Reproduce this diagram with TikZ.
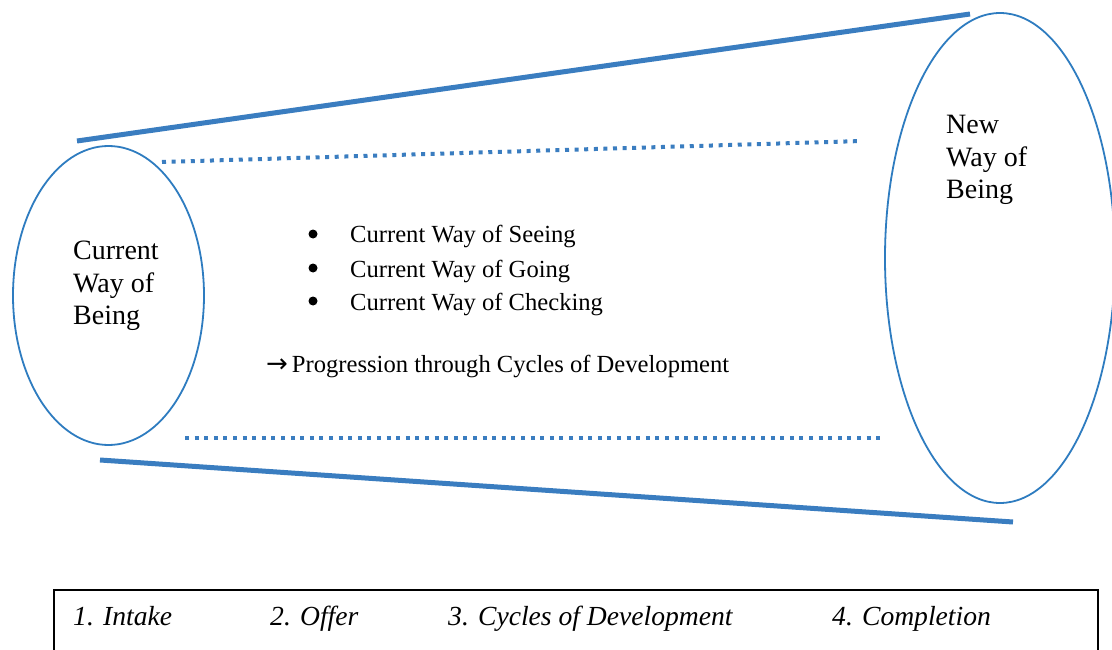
\documentclass[tikz,border=0pt]{standalone}
\usepackage{fontspec}
\setmainfont{Liberation Serif}
\newfontfamily\symfont{DejaVu Sans}
\usetikzlibrary{shapes.geometric}
\definecolor{lineblue}{HTML}{3A7DC0}
\definecolor{ellblue}{HTML}{2E7CC0}
\begin{document}
\begin{tikzpicture}[x=1pt,y=-1pt,
  stage/.style={draw=ellblue,line width=1.8pt,ellipse,inner sep=0pt},
  bigtext/.style={anchor=north west,inner sep=0pt,align=left,font=\fontsize{28}{32.5}\selectfont},
  solidline/.style={draw=lineblue,line width=5pt},
  dotline/.style={draw=lineblue,line width=4pt,dash pattern=on 4pt off 5.6pt},
  bulletdot/.style={circle,fill=black,inner sep=0pt,minimum size=9pt},
  itemtext/.style={anchor=base west,inner sep=0pt,font=\fontsize{24.6}{28}\selectfont},
  phasetext/.style={anchor=base west,inner sep=0pt,font=\fontsize{27.6}{32}\selectfont\itshape}]
\useasboundingbox (0,0) rectangle (1112,650);
\clip (0,0) rectangle (1112,650);
\fill[white] (0,0) rectangle (1112,650);
% ellipses
\node[stage,minimum width=191pt,minimum height=299pt] (cur) at (108.5,295.5) {};
\node[stage,minimum width=230pt,minimum height=490pt] (new) at (1000,258) {};
\node[bigtext] (curtext) at (73,241) {Current\\Way of\\Being};
\node[bigtext] (newtext) at (946,115) {New\\Way of\\Being};
% funnel lines
\coordinate (ta) at (77,141);
\coordinate (tb) at (970,14);
\coordinate (ba) at (100,460);
\coordinate (bb) at (1013,522);
\coordinate (da) at (162,162);
\coordinate (db) at (862,141);
\coordinate (ea) at (185,438);
\coordinate (eb) at (885,438);
\draw[solidline] (ta) -- (tb);
\draw[solidline] (ba) -- (bb);
\draw[dotline] (da) -- (db);
\draw[dotline] (ea) -- (eb);
% bullets
\node[bulletdot] (b1) at (313,234) {};
\node[bulletdot] (b2) at (313,268) {};
\node[bulletdot] (b3) at (313,301) {};
\node[itemtext] (s1) at (350,243) {Current Way of Seeing};
\node[itemtext] (s2) at (350,277) {Current Way of Going};
\node[itemtext] (s3) at (350,310) {Current Way of Checking};
\node[itemtext] (arr) at (266,372) {{\symfont\fontsize{26}{28}\selectfont →}\hspace{4pt}Progression through Cycles of Development};
% phase box
\node[draw=black,line width=1.5pt,anchor=north west,inner sep=0pt,minimum width=1044pt,minimum height=90pt] (phases) at (53,589) {};
\node[phasetext] (p1) at (73,625) {1. Intake};
\node[phasetext] (p2) at (270,625) {2. Offer};
\node[phasetext] (p3) at (448,625) {3. Cycles of Development};
\node[phasetext] (p4) at (832,625) {4. Completion};
\end{tikzpicture}
\end{document}
